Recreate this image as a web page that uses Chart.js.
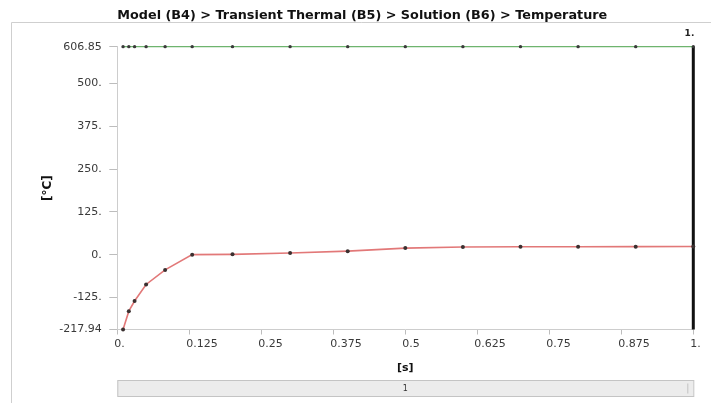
<!DOCTYPE html>
<html>
<head>
<meta charset="utf-8">
<script src="https://cdn.jsdelivr.net/npm/chart.js@4"></script>
<style>
html,body{margin:0;padding:0;background:#fff;}
#wrap{width:711px;height:403px;position:relative;}
</style>
</head>
<body>
<div id="wrap"><canvas id="c" width="711" height="403"></canvas></div>
<script>
// ---- data ----
const chartTitle = "Model (B4) > Transient Thermal (B5) > Solution (B6) > Temperature";
const timeValues = [0.01, 0.02, 0.03, 0.05, 0.083, 0.13, 0.2, 0.3, 0.4, 0.5, 0.6, 0.7, 0.8, 0.9, 1.0];
const minTemperature = [-217.94, -164.5, -134.8, -86.6, -44.2, 0.3, 1.2, 5.0, 10.5, 19.5, 22.8, 23.2, 23.5, 23.7, 24.0];
const maxTemperature = [606.85, 606.85, 606.85, 606.85, 606.85, 606.85, 606.85, 606.85, 606.85, 606.85, 606.85, 606.85, 606.85, 606.85, 606.85];
const xTickValues = [0, 0.125, 0.25, 0.375, 0.5, 0.625, 0.75, 0.875, 1];
const xTickLabels = ["0.", "0.125", "0.25", "0.375", "0.5", "0.625", "0.75", "0.875", "1."];
const yTickValues = [-217.94, -125, 0, 125, 250, 375, 500, 606.85];
const yTickLabels = ["-217.94", "-125.", "0.", "125.", "250.", "375.", "500.", "606.85"];
const xAxisTitle = "[s]";
const yAxisTitle = "[°C]";
const markerTime = 1;
const markerLabel = "1.";
const stepLabel = "1";

const FONT = "'DejaVu Sans', sans-serif";

const decor = {
  id: 'decor',
  beforeDraw(chart) {
    const ctx = chart.ctx;
    ctx.save();
    ctx.fillStyle = '#fff';
    ctx.fillRect(0, 0, chart.width, chart.height);
    ctx.strokeStyle = '#cfcfcf';
    ctx.lineWidth = 1;
    ctx.beginPath();
    ctx.moveTo(11.5, chart.height);
    ctx.lineTo(11.5, 22.5);
    ctx.lineTo(chart.width, 22.5);
    ctx.stroke();
    ctx.restore();
  },
  afterDraw(chart) {
    const ctx = chart.ctx;
    const xs = chart.scales.x;
    const ca = chart.chartArea;
    ctx.save();
    // time marker label
    const mx = xs.getPixelForValue(markerTime);
    ctx.fillStyle = '#222';
    ctx.font = "bold 9px " + FONT;
    ctx.textAlign = 'right';
    ctx.textBaseline = 'middle';
    ctx.fillText(markerLabel, mx + 1, 34);
    // step bar
    const bx = ca.left, bw = ca.right - ca.left, by = 380.5, bh = 16;
    ctx.fillStyle = '#ececec';
    ctx.fillRect(bx, by, bw, bh);
    ctx.strokeStyle = '#c4c4c4';
    ctx.strokeRect(bx + 0.5, by, bw, bh);
    ctx.beginPath();
    ctx.moveTo(ca.right - 5.5, by + 3);
    ctx.lineTo(ca.right - 5.5, by + bh - 3);
    ctx.stroke();
    ctx.fillStyle = '#333';
    ctx.font = "8px " + FONT;
    ctx.textAlign = 'center';
    ctx.fillText(stepLabel, (ca.left + ca.right) / 2, by + bh / 2 + 0.5);
    ctx.restore();
  }
};

const minPoints = timeValues.map((t, i) => ({x: t, y: minTemperature[i]}));
const maxPoints = timeValues.map((t, i) => ({x: t, y: maxTemperature[i]}));
const markerPoints = [{x: markerTime, y: yTickValues[0]}, {x: markerTime, y: yTickValues[yTickValues.length - 1]}];

new Chart(document.getElementById('c'), {
  type: 'line',
  data: {
    datasets: [
      {
        label: 'Maximum',
        data: maxPoints,
        borderColor: 'rgb(110,180,110)',
        borderWidth: 1.2,
        pointRadius: 1.7,
        pointBackgroundColor: '#3a3a3a',
        pointBorderColor: '#3a3a3a',
        pointBorderWidth: 0,
        tension: 0,
        clip: false
      },
      {
        label: 'Minimum',
        data: minPoints,
        borderColor: 'rgb(226,120,120)',
        borderWidth: 1.6,
        pointRadius: 2,
        pointBackgroundColor: '#3a3030',
        pointBorderColor: '#3a3030',
        pointBorderWidth: 0,
        tension: 0,
        clip: false
      },
      {
        label: 'Time',
        data: markerPoints,
        borderColor: '#111',
        borderWidth: 3,
        pointRadius: 0,
        clip: false
      }
    ]
  },
  options: {
    responsive: false,
    animation: false,
    events: [],
    layout: {padding: {left: 0, right: 17.7, top: 0, bottom: 28.4}},
    plugins: {
      legend: {display: false},
      tooltip: {enabled: false},
      title: {
        display: true,
        text: chartTitle,
        align: 'start',
        fullSize: false,
        color: '#111',
        font: {family: FONT, size: 12.8, weight: 'bold', lineHeight: 1.2},
        padding: {top: 7.6, bottom: 23.7}
      }
    },
    scales: {
      x: {
        type: 'linear',
        min: 0,
        max: 1,
        afterBuildTicks(scale) { scale.ticks = xTickValues.map(v => ({value: v})); },
        afterFit(scale) { scale.height = 45.1; },
        ticks: {
          autoSkip: false,
          maxRotation: 0,
          align: 'start',
          labelOffset: -3,
          padding: 3,
          color: '#3a3a3a',
          font: {family: FONT, size: 11},
          callback(value, index) { return xTickLabels[index]; }
        },
        grid: {display: true, drawOnChartArea: false, drawTicks: true, tickLength: 5, color: '#bdbdbd'},
        border: {display: true, color: '#cdcdcd'},
        title: {
          display: true,
          text: xAxisTitle,
          color: '#111',
          font: {family: FONT, size: 11, weight: 'bold', lineHeight: 1.2},
          padding: {top: 0, bottom: 0}
        }
      },
      y: {
        type: 'linear',
        min: yTickValues[0],
        max: yTickValues[yTickValues.length - 1],
        afterBuildTicks(scale) { scale.ticks = yTickValues.map(v => ({value: v})); },
        afterFit(scale) { scale.width = 117.3; },
        ticks: {
          autoSkip: false,
          padding: 7.5,
          color: '#3a3a3a',
          font: {family: FONT, size: 11},
          callback(value, index) { return yTickLabels[index]; }
        },
        grid: {display: true, drawOnChartArea: false, drawTicks: true, tickLength: 8, color: '#bdbdbd'},
        border: {display: true, color: '#cdcdcd'},
        title: {
          display: true,
          text: yAxisTitle,
          color: '#111',
          font: {family: FONT, size: 12, weight: 'bold', lineHeight: 1.2},
          padding: {top: 40.8, bottom: 0}
        }
      }
    }
  },
  plugins: [decor]
});
</script>
</body>
</html>
